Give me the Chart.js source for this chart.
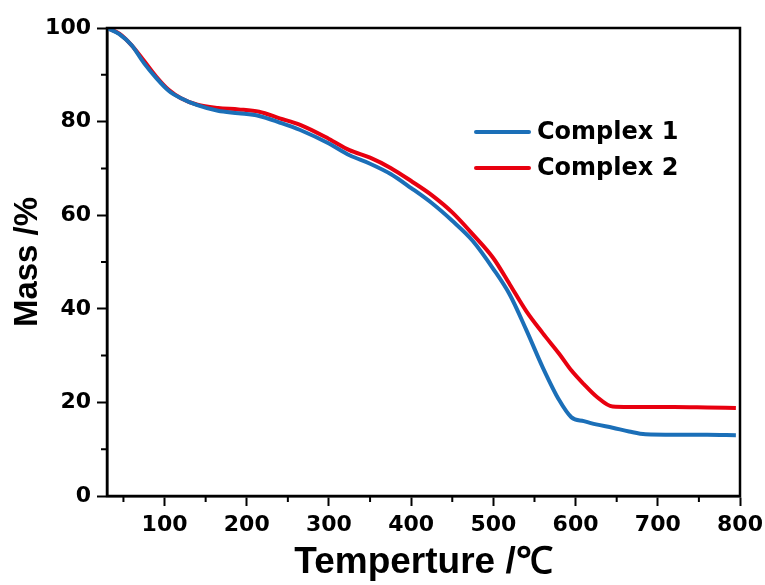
<!DOCTYPE html>
<html>
<head>
<meta charset="utf-8">
<script src="https://cdn.jsdelivr.net/npm/chart.js@4/dist/chart.umd.min.js"></script>
<style>
  html, body { margin: 0; padding: 0; background: #fff; }
  #wrap { width: 765px; height: 585px; }
</style>
</head>
<body>
<div id="wrap"><canvas id="tga"></canvas></div>
<script>
// temperature (℃) sampled along the curves
const temps = [30, 45, 60, 75, 90, 105, 120, 140, 165, 190, 215, 240, 265, 300, 325, 350, 375, 400,
  425, 450, 475, 500, 520, 540, 560, 580, 595, 610, 625, 645, 665, 685, 720, 760, 795];

// mass (%)
const complex1 = [100, 98.7, 96.3, 92.5, 89.3, 86.6, 85, 83.5, 82.3, 81.8, 81.2, 79.8, 78.2, 75.3, 72.8, 71.0, 68.8, 65.8,
  62.6, 58.8, 54.5, 48.5, 43, 35.5, 27.5, 20.5, 16.8, 16, 15.3, 14.6, 13.8, 13.2, 13.1, 13.1, 13];
const complex2 = [100, 98.8, 96.3, 93, 89.6, 86.8, 85, 83.6, 82.9, 82.6, 82.1, 80.7, 79.3, 76.3, 73.9, 72.3, 70.1, 67.3,
  64.3, 60.6, 55.9, 50.8, 45.2, 39.5, 34.8, 30.4, 26.8, 23.9, 21.3, 19.1, 19, 19, 19, 18.9, 18.8];

const seriesNames = ['Complex 1', 'Complex 2'];
const seriesColors = ['#1b6fb8', '#e8000f'];

const xTickLabels = [100, 200, 300, 400, 500, 600, 700, 800];
const yTickLabels = [0, 20, 40, 60, 80, 100];

const FONT = '"Liberation Sans", Arial, sans-serif';
const WIDE = '"DejaVu Sans", "Liberation Sans", sans-serif';

function toPoints(values) {
  return temps.map((t, i) => ({ x: t, y: values[i] }));
}

// box round the plot + short minor ticks
const framePlugin = {
  id: 'frame',
  afterDraw(chart) {
    const { ctx, chartArea: a, scales } = chart;
    ctx.save();
    ctx.strokeStyle = '#000';
    ctx.lineWidth = 2.5;
    ctx.strokeRect(a.left, a.top, a.right - a.left, a.bottom - a.top);

    ctx.lineWidth = 2;
    ctx.beginPath();
    for (let v = 50; v < 800; v += 100) {
      const px = scales.x.getPixelForValue(v);
      ctx.moveTo(px, a.bottom);
      ctx.lineTo(px, a.bottom + 6);
    }
    for (let v = 10; v < 100; v += 20) {
      const py = scales.y.getPixelForValue(v);
      ctx.moveTo(a.left, py);
      ctx.lineTo(a.left - 6, py);
    }
    ctx.stroke();
    ctx.restore();
  }
};

const legendPlugin = {
  id: 'insideLegend',
  afterDraw(chart) {
    const { ctx } = chart;
    ctx.save();
    ctx.font = 'bold 24px ' + WIDE;
    ctx.textBaseline = 'middle';
    ctx.lineCap = 'round';
    chart.data.datasets.forEach((ds, i) => {
      const y = 132 + i * 36;
      ctx.strokeStyle = ds.borderColor;
      ctx.lineWidth = 4;
      ctx.beginPath();
      ctx.moveTo(476, y);
      ctx.lineTo(529, y);
      ctx.stroke();
      ctx.fillStyle = '#000';
      ctx.fillText(ds.label, 537, y + 1);
    });
    ctx.restore();
  }
};

window.addEventListener('DOMContentLoaded', () => {
  const ctx = document.getElementById('tga').getContext('2d');
  new Chart(ctx, {
    type: 'line',
    data: {
      datasets: [complex1, complex2].map((vals, i) => ({
        label: seriesNames[i],
        data: toPoints(vals),
        borderColor: seriesColors[i],
        borderWidth: 4,
        pointRadius: 0,
        fill: false,
        cubicInterpolationMode: 'monotone'
      }))
    },
    options: {
      responsive: true,
      maintainAspectRatio: false,
      animation: false,
      layout: { padding: { top: 28, right: 25, left: 0, bottom: 0 } },
      plugins: { legend: { display: false }, tooltip: { enabled: false } },
      scales: {
        x: {
          type: 'linear',
          min: 30,
          max: 800,
          afterFit(scale) {
            scale.height = 89;
            scale.paddingLeft = 0;
            scale.paddingRight = 0;
          },
          border: { color: '#000', width: 2.5 },
          grid: {
            drawOnChartArea: false,
            tickLength: 10,
            tickWidth: 2,
            tickColor: c => xTickLabels.includes(c.tick.value) ? '#000' : 'transparent'
          },
          ticks: {
            stepSize: 100,
            includeBounds: false,
            autoSkip: false,
            maxRotation: 0,
            padding: 6,
            color: '#000',
            font: { family: WIDE, size: 22, weight: 'bold' },
            callback: v => xTickLabels.includes(v) ? String(v) : ''
          },
          title: {
            display: true,
            text: 'Temperture /℃',
            color: '#000',
            padding: { top: 2, bottom: 0 },
            font: { family: FONT, size: 37, weight: 'bold' }
          }
        },
        y: {
          min: 0,
          max: 100,
          afterFit(scale) { scale.width = 107; },
          border: { color: '#000', width: 2.5 },
          grid: {
            drawOnChartArea: false,
            tickLength: 10,
            tickWidth: 2,
            tickColor: '#000'
          },
          ticks: {
            stepSize: 20,
            padding: 6,
            color: '#000',
            font: { family: WIDE, size: 22, weight: 'bold' },
            callback: v => yTickLabels.includes(v) ? String(v) : ''
          },
          title: {
            display: true,
            text: 'Mass /%',
            color: '#000',
            padding: { top: 8, bottom: 0 },
            font: { family: FONT, size: 33, weight: 'bold' }
          }
        }
      }
    },
    plugins: [framePlugin, legendPlugin]
  });
});
</script>
</body>
</html>
